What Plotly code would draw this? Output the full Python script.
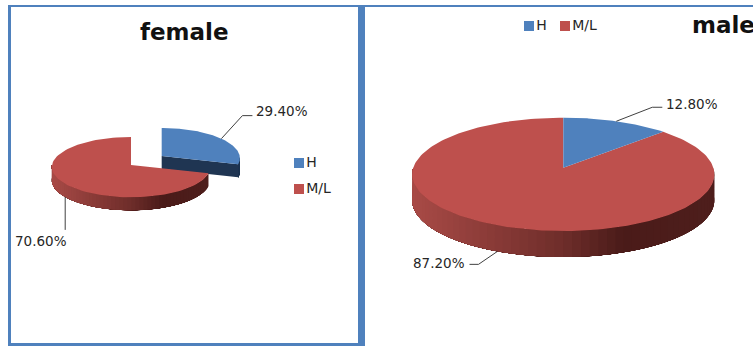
import math
import plotly.graph_objects as go

CATEGORIES = ["H", "M/L"]
FEMALE_VALUES = [29.4, 70.6]
MALE_VALUES = [12.8, 87.2]
FEMALE_LABELS = ["29.40%", "70.60%"]
MALE_LABELS = ["12.80%", "87.20%"]

BLUE, RED = "#4F81BD", "#BE504D"
BLUE_SIDE = "#1F3552"
FONT = "DejaVu Sans"
TEXT = "#262626"
W, H = 753, 346


def project(geom, theta):
    cx, cy, rx, ry, k = geom
    s = 1 / (1 + k * math.cos(theta))
    return cx + rx * math.sin(theta) * s, cy - ry * math.cos(theta) * s


def lerp_hex(a, b, t):
    ca = [int(a[i:i + 2], 16) for i in (1, 3, 5)]
    cb = [int(b[i:i + 2], 16) for i in (1, 3, 5)]
    return "#%02x%02x%02x" % tuple(round(x + (y - x) * t) for x, y in zip(ca, cb))


def side_colour(f):
    stops = [(0, "#A84A46"), (0.5, "#6E2D2A"), (0.7, "#4A1B19"), (1, "#4E1E1C")]
    for (f0, c0), (f1, c1) in zip(stops, stops[1:]):
        if f <= f1:
            return lerp_hex(c0, c1, (f - f0) / (f1 - f0))
    return stops[-1][1]


fig = go.Figure()


def poly(xs, ys, colour):
    fig.add_trace(go.Scatter(x=xs, y=ys, mode="lines", fill="toself", fillcolor=colour,
                             line=dict(color=colour, width=0), showlegend=False,
                             hoverinfo="skip"))


def slice_angles(values, i):
    total = sum(values)
    start = sum(values[:i]) / total * 2 * math.pi
    return start, start + values[i] / total * 2 * math.pi


def arc(geom, a, b, n=90):
    pts = [project(geom, a + (b - a) * j / n) for j in range(n + 1)]
    return [p[0] for p in pts], [p[1] for p in pts]


def draw_side(geom, a, b, depth, side=None, bands=60):
    cx, _, rx, _, _ = geom
    lo, hi = max(a, math.pi / 2), min(b, 3 * math.pi / 2)
    if hi <= lo:
        return
    for j in range(bands):
        t0 = lo + (hi - lo) * j / bands
        # every band runs to the far end of the rim, so the next one paints over it
        # and no antialiased seam shows between neighbours
        xs, ys = arc(geom, t0, hi, 40)
        mid = project(geom, t0 + (hi - lo) / bands / 2)[0]
        c = side if side else side_colour((mid - (cx - rx)) / (2 * rx))
        poly(xs + xs[::-1], ys + [y + depth for y in ys[::-1]], c)


def leader(geom, value_list, i, depth_off, bend, run, label, label_xy):
    a, b = slice_angles(value_list, i)
    x0, y0 = project(geom, (a + b) / 2)
    y0 += depth_off
    x1, y1 = x0 + bend[0], y0 + bend[1]
    fig.add_trace(go.Scatter(x=[x0, x1, x1 + run], y=[y0, y1, y1], mode="lines",
                             line=dict(color="#404040", width=1), showlegend=False,
                             hoverinfo="skip"))
    fig.add_annotation(x=label_xy[0], y=label_xy[1], text=label, showarrow=False,
                       xanchor="left", yanchor="middle", xref="x", yref="y",
                       font=dict(family=FONT, size=13.5, color=TEXT))


# ---- female panel (exploded H slice) ----
F_H = (161.7, 156, 78, 30, 0.07)
F_R = (131, 165, 79, 30, 0.07)
F_DEPTH = 13
a, b = slice_angles(FEMALE_VALUES, 0)
draw_side(F_H, a, b, F_DEPTH, side=BLUE_SIDE)
ex, ey = project(F_H, b)
poly([F_H[0], ex, ex, F_H[0]], [F_H[1], ey, ey + F_DEPTH, F_H[1] + F_DEPTH], BLUE_SIDE)
xs, ys = arc(F_H, a, b)
poly([F_H[0]] + xs, [F_H[1]] + ys, BLUE)
a, b = slice_angles(FEMALE_VALUES, 1)
draw_side(F_R, a, b, F_DEPTH)
xs, ys = arc(F_R, a, b)
poly([F_R[0]] + xs, [F_R[1]] + ys, RED)

# ---- male panel ----
M = (563.3, 167.7, 150, 55.9, 0.117)
M_DEPTH = 26
a, b = slice_angles(MALE_VALUES, 1)
draw_side(M, a, b, M_DEPTH)
xs, ys = arc(M, a, b, 180)
poly([M[0]] + xs, [M[1]] + ys, RED)
a, b = slice_angles(MALE_VALUES, 0)
xs, ys = arc(M, a, b)
poly([M[0]] + xs, [M[1]] + ys, BLUE)

# ---- leaders and data labels ----
leader(F_H, FEMALE_VALUES, 0, 0, (21, -23), 10, FEMALE_LABELS[0], (254, 111))
leader(F_R, FEMALE_VALUES, 1, F_DEPTH, (0, 33), 0, FEMALE_LABELS[1], (13, 241))
leader(M, MALE_VALUES, 0, 0, (36, -14), 10, MALE_LABELS[0], (664, 104))
leader(M, MALE_VALUES, 1, M_DEPTH, (-19, 13), -9, MALE_LABELS[1], (411, 263))


# ---- legends: swatch with its label right beside it ----
def legend_entry(x, y, name, colour):
    fig.add_trace(go.Scatter(x=[x], y=[y], mode="markers+text", text=[name],
                             textposition="middle right", showlegend=False, hoverinfo="skip",
                             marker=dict(symbol="square", size=10, color=colour),
                             textfont=dict(family=FONT, size=14, color=TEXT)))


colours = [BLUE, RED]
for name, colour, xy in zip(CATEGORIES, colours, [(299, 163), (299, 189)]):
    legend_entry(xy[0], xy[1], name, colour)
for name, colour, xy in zip(CATEGORIES, colours, [(529, 26), (565, 26)]):
    legend_entry(xy[0], xy[1], name, colour)

# ---- titles ----
fig.add_annotation(x=184, y=32, text="<b>female</b>", showarrow=False, xref="x", yref="y",
                   font=dict(family=FONT, size=23, color="#111111"))
fig.add_annotation(x=690, y=25, text="<b>male</b>", showarrow=False, xref="x", yref="y",
                   xanchor="left", font=dict(family=FONT, size=23, color="#111111"))

# ---- panel frames ----
FRAME = "#4F81BD"
for x0, y0, x1, y1 in [(8, 5, 11, 345), (8, 5, 753, 7), (358, 5, 365, 346), (8, 343, 358, 346)]:
    fig.add_shape(type="rect", xref="x", yref="y", x0=x0, y0=y0, x1=x1, y1=y1,
                  fillcolor=FRAME, line_width=0, layer="below")

fig.update_layout(
    width=W, height=H, margin=dict(l=0, r=0, t=0, b=0), showlegend=False,
    paper_bgcolor="white", plot_bgcolor="white",
    xaxis=dict(range=[0, W], visible=False, fixedrange=True),
    yaxis=dict(range=[H, 0], visible=False, fixedrange=True),
)
fig.write_html("out.html", config=dict(displayModeBar=False),
               post_script="document.body.style.margin='0';document.body.style.overflow='hidden';")
